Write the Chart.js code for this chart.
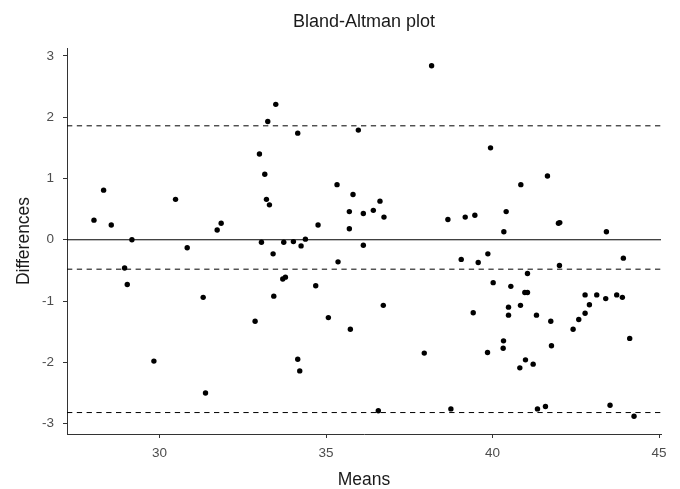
<!DOCTYPE html>
<html>
<head>
<meta charset="utf-8">
<title>Bland-Altman plot</title>
<script src="https://cdn.jsdelivr.net/npm/chart.js@4"></script>
<style>
  html, body { margin: 0; padding: 0; background: #fff; }
  canvas { display: block; }
</style>
</head>
<body>
<canvas id="baChart" width="680" height="489"></canvas>
<script>
// ── DATA ──────────────────────────────────────────────────
const means = [
  28.03, 28.32, 28.55, 29.17, 30.48, 31.73, 31.85, 33.00, 30.83, 28.95,
  29.03, 31.31, 32.87, 29.83, 31.38, 33.06, 38.17, 33.49, 33.25, 34.15,
  35.97, 33.16, 33.21, 33.30, 35.33, 35.81, 36.62, 35.70, 36.12, 36.42,
  36.74, 34.76, 35.70, 34.38, 33.73, 34.02, 34.25, 33.41, 36.12, 35.36,
  33.70, 33.78, 34.69, 33.43, 36.72, 35.07, 35.73, 37.95, 34.15, 34.21,
  36.57, 39.94, 41.65, 40.85, 38.66, 39.18, 39.47, 40.41, 40.34, 41.98,
  42.02, 43.42, 39.06, 39.57, 39.86, 42.01, 43.93, 41.05, 40.02, 40.55,
  40.97, 41.05, 42.78, 43.13, 43.40, 43.73, 43.90, 42.91, 42.78, 42.59,
  42.42, 39.42, 40.48, 40.48, 40.84, 41.32, 41.75, 44.12, 40.33, 40.32,
  39.85, 41.77, 40.99, 40.82, 41.22, 38.75, 41.35, 41.59, 43.53, 44.25
];
const diffs = [
   0.32,  0.81,  0.24,  0.00,  0.66,  0.16,  0.27,  1.40, -0.13, -0.46,
  -0.73, -0.94, -1.33, -1.98, -2.50, -0.04,  2.84,  2.21,  1.93,  1.74,
   1.79,  1.07,  0.66,  0.57,  0.90,  0.74,  0.63,  0.46,  0.43,  0.48,
   0.37,  0.24,  0.18,  0.01, -0.04, -0.03, -0.10, -0.23, -0.09, -0.36,
  -0.64, -0.61, -0.75, -0.92, -1.07, -1.27, -1.46, -1.85, -1.95, -2.14,
  -2.79,  1.50,  1.04,  0.90,  0.33,  0.37,  0.40,  0.46,  0.13,  0.27,
   0.28,  0.13, -0.32, -0.37, -0.23, -0.42, -0.30, -0.55, -0.70, -0.76,
  -0.86, -0.86, -0.90, -0.90, -0.96, -0.90, -0.94, -1.06, -1.20, -1.30,
  -1.46, -1.19, -1.10, -1.23, -1.07, -1.23, -1.33, -1.61, -1.65, -1.77,
  -1.84, -1.73, -1.96, -2.09, -2.03, -2.76, -2.76, -2.72, -2.70, -2.88
];

const meanDiff = -0.48;
const upperLoA = 1.86;
const lowerLoA = -2.82;

const xTicks = [30, 35, 40, 45];
const yTicks = [-3, -2, -1, 0, 1, 2, 3];
const xRange = [27.22, 45.06];
const yRange = [-3.17, 3.13];

// ── HELPERS ───────────────────────────────────────────────
const FONT = 'Liberation Sans, Arial, Helvetica, sans-serif';
const hLine = (y, dash) => ({
  type: 'scatter',
  data: [{ x: xRange[0], y }, { x: xRange[1], y }],
  showLine: true,
  borderColor: '#000',
  borderWidth: 1,
  borderDash: dash,
  pointRadius: 0,
  pointHoverRadius: 0,
});

const points = means.map((m, i) => ({ x: m, y: diffs[i] }));

// ── CHART ─────────────────────────────────────────────────
new Chart(document.getElementById('baChart'), {
  type: 'scatter',
  data: {
    datasets: [
      hLine(0, []),
      hLine(upperLoA, [5.3, 4.5]),
      hLine(meanDiff, [5.3, 4.5]),
      hLine(lowerLoA, [5.3, 4.5]),
      {
        data: points,
        backgroundColor: '#000',
        borderWidth: 0,
        pointRadius: 2.7,
      },
    ]
  },
  options: {
    responsive: false,
    animation: false,
    layout: { padding: { top: 0, right: 19, bottom: 0, left: 0 } },
    plugins: {
      legend: { display: false },
      tooltip: { enabled: false },
      title: {
        display: true,
        text: 'Bland-Altman plot',
        fullSize: false,
        color: '#1a1a1a',
        font: { family: FONT, size: 18, weight: 'normal', lineHeight: 1.2 },
        padding: { top: 11.2, bottom: 15.2 },
      },
    },
    scales: {
      x: {
        type: 'linear',
        min: xRange[0],
        max: xRange[1],
        afterBuildTicks: s => { s.ticks = xTicks.map(v => ({ value: v })); },
        afterFit: s => { s.height = 55; },
        grid: { drawOnChartArea: false, drawTicks: true, tickLength: 4, color: '#333', lineWidth: 1 },
        border: { display: true, color: '#333', width: 1 },
        ticks: { color: '#4d4d4d', font: { family: FONT, size: 13.5 }, padding: 7, maxRotation: 0 },
        title: {
          display: true,
          text: 'Means',
          color: '#1a1a1a',
          font: { family: FONT, size: 17.5, lineHeight: 1 },
          padding: { top: 0, bottom: 0 },
        },
      },
      y: {
        type: 'linear',
        min: yRange[0],
        max: yRange[1],
        afterBuildTicks: s => { s.ticks = yTicks.map(v => ({ value: v })); },
        afterFit: s => { s.width = 67; },
        grid: { drawOnChartArea: false, drawTicks: true, tickLength: 4, color: '#333', lineWidth: 1 },
        border: { display: true, color: '#333', width: 1 },
        ticks: { color: '#4d4d4d', font: { family: FONT, size: 13.5 }, padding: 9 },
        title: {
          display: true,
          text: 'Differences',
          color: '#1a1a1a',
          font: { family: FONT, size: 17.5, lineHeight: 1 },
          padding: { top: 15, bottom: 0 },
        },
      },
    },
  },
});
</script>
</body>
</html>
